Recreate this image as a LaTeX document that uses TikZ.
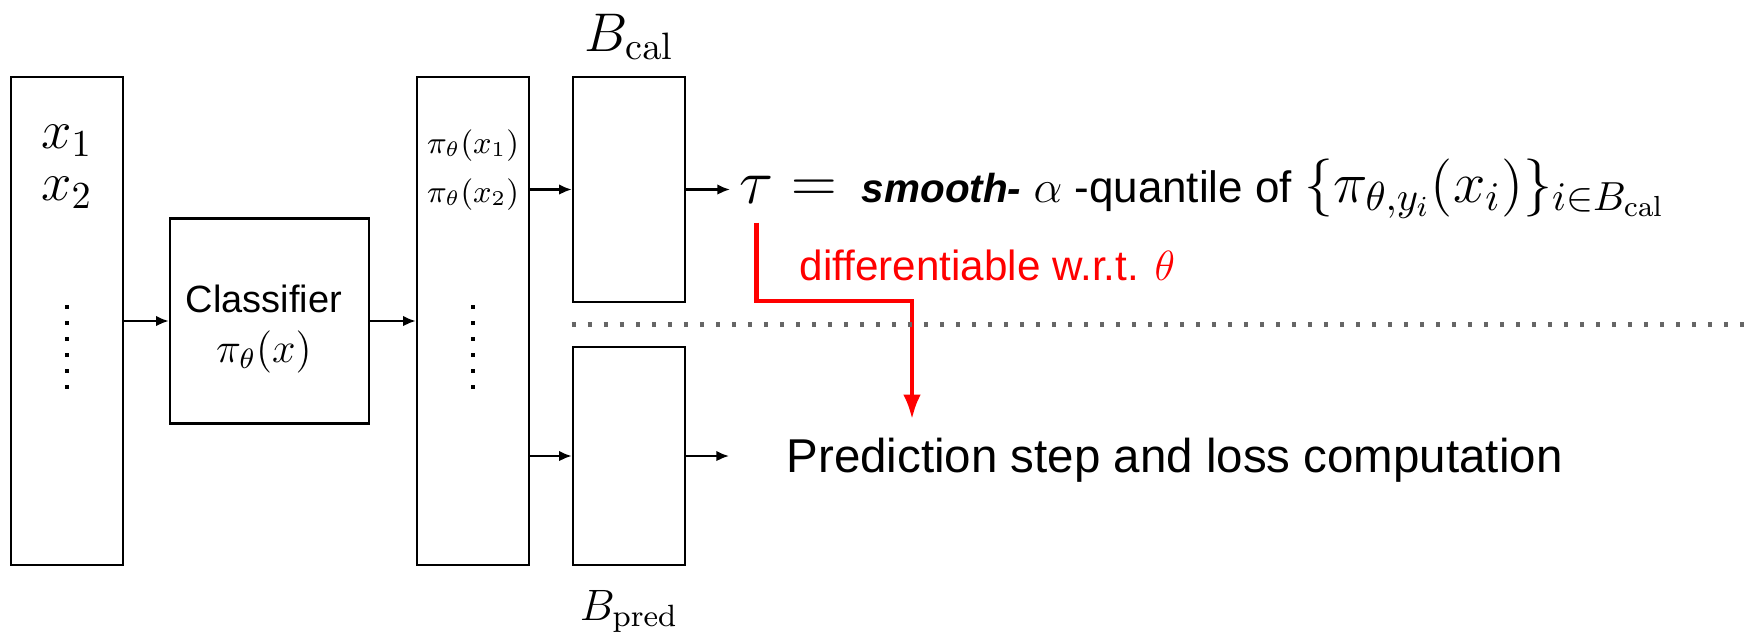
\RequirePackage{fix-cm}
\documentclass[tikz,border=0pt]{standalone}
\usepackage[no-math]{fontspec}
\newfontfamily\slidefont{Liberation Sans}
\usetikzlibrary{arrows.meta,calc}
\definecolor{diffred}{HTML}{FF0000}
\definecolor{sepgray}{HTML}{666666}
\tikzset{
  blk/.style={draw, line width=0.7pt, minimum width=11.2mm, inner sep=0pt},
  flow/.style={-{Latex[length=3.6pt,width=3pt]}, line width=0.6pt},
  dflow/.style={-{Latex[length=7pt,width=5pt]}, line width=1.2pt, draw=diffred},
  sepline/.style={draw=sepgray, line width=1.15pt, dash pattern=on 1.15pt off 3.4pt},
  mlab/.style={inner sep=0pt, anchor=base},
  slab/.style={inner sep=0pt, anchor=base west, font=\slidefont},
}

\begin{document}
\begin{tikzpicture}[x=0.01cm, y=-0.01cm]
  \useasboundingbox (0,0) rectangle (1746,635);
  \node[blk, minimum height=48.8mm] (inbox) at (67,321) {};
  \node[blk, minimum width=19.9mm, minimum height=20.5mm] (clf) at (269.5,321) {};
  \node[align=center, inner sep=0pt, font=\slidefont\fontsize{10.8}{14}\selectfont] (clflab)
    at (264,329) {Classifier\\{\fontsize{12}{14}\selectfont$\pi_\theta(x)$}};
  \node[blk, minimum height=48.8mm] (outbox) at (473,321) {};
  \node[blk, minimum height=22.5mm] (bcal) at (629,189.5) {};
  \node[blk, minimum height=21.8mm] (bpred) at (629,456) {};

  \node[mlab, font=\fontsize{15.5}{15.5}\selectfont] (x1) at (67,148) {$x_1$};
  \node[mlab, font=\fontsize{15.5}{15.5}\selectfont] (x2) at (67,200) {$x_2$};
  \node[mlab, font=\fontsize{9}{9}\selectfont] (p1) at (473,153) {$\pi_\theta(x_1)$};
  \node[mlab, font=\fontsize{9}{9}\selectfont] (p2) at (473,202) {$\pi_\theta(x_2)$};
  \node[mlab, font=\fontsize{15.5}{15.5}\selectfont] (bcallab) at (629,51) {$B_{\mathrm{cal}}$};
  \node[mlab, font=\fontsize{12.5}{12.5}\selectfont] (bpredlab) at (629,620) {$B_{\mathrm{pred}}$};

  \node[mlab, anchor=base west, inner xsep=2.5pt, inner ysep=5.4pt,
    font=\fontsize{18}{18}\selectfont] (tau) at (730,203) {$\tau$};
  \node[slab, font=\slidefont\fontsize{12.5}{14}\selectfont] (qdef) at (791,202)
    {{\fontsize{18}{18}\selectfont$=$}\hspace{7pt}{\fontsize{11.5}{14}\selectfont\bfseries\itshape smooth-}
     {\fontsize{13}{14}\selectfont$\alpha$} -quantile of
     {\fontsize{16.5}{17}\selectfont$\{\pi_{\theta,y_i}(x_i)\}_{i\in B_{\mathrm{cal}}}$}};
  \node[slab, text=diffred, font=\slidefont\fontsize{12}{14}\selectfont] (difflab) at (799,280)
    {differentiable w.r.t. $\theta$};
  \node[slab, inner ysep=5pt, font=\slidefont\fontsize{13.5}{16}\selectfont] (pred) at (786,472)
    {Prediction step and loss computation};
  \coordinate (predin) at (729,456);
  \coordinate (bend) at (912,301);

  \draw[flow] (inbox.east) -- (clf.west);
  \draw[flow] (clf.east) -- (outbox.west);
  \draw[flow] (outbox.east |- bcal.west) -- (bcal.west);
  \draw[flow] (outbox.east |- bpred.west) -- (bpred.west);
  \draw[flow] (bcal.east) -- (bcal.east -| tau.west);
  \draw[flow] (bpred.east) -- (predin);
  \draw[dflow] (tau.south) |- (bend) -- (bend |- pred.north);
  \draw[sepline] ($(bcal.south west)!0.5!(bpred.north west)$) -- ++(1173,0);

  \foreach \b in {inbox,outbox}
    \foreach \k in {0,...,5}
      \fill ($(\b.center)+(-2,-16+16*\k)$) rectangle ++(4,4);
\end{tikzpicture}
\end{document}
